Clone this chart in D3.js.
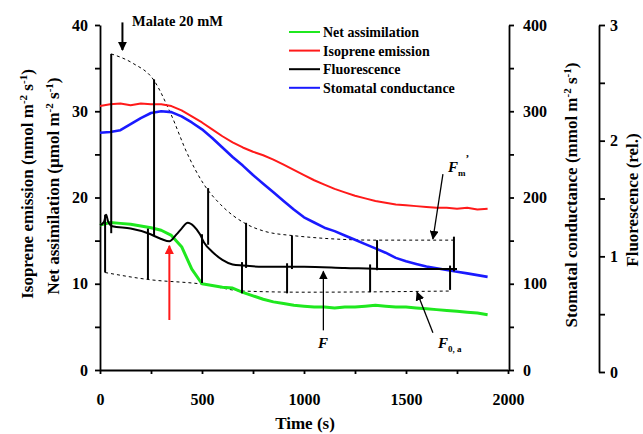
<!DOCTYPE html>
<html>
<head>
<meta charset="utf-8">
<script src="https://cdn.jsdelivr.net/npm/d3@7"></script>
<style>
  body { margin: 0; background: #fff; }
  svg { display: block; }
  text { font-family: "Liberation Serif", "Times New Roman", serif; font-weight: bold; fill: #000; }
</style>
</head>
<body>
<script>
// sampled traces (s)
var times = [0, 50, 100, 150, 200, 250, 300, 350, 400, 450, 500, 550, 600, 650, 700, 750, 800, 850, 900, 950,
  1000, 1050, 1100, 1150, 1200, 1250, 1300, 1350, 1400, 1450, 1500, 1550, 1600, 1650, 1700, 1750, 1800, 1850, 1900];
var netAssimilation = [16.8, 17.1, 17.0, 16.9, 16.7, 16.5, 16.2, 15.6, 14.3, 11.7, 10.0, 9.8, 9.6, 9.5, 9.0, 8.6, 8.2, 7.9, 7.7, 7.5,
  7.4, 7.3, 7.3, 7.2, 7.3, 7.3, 7.4, 7.5, 7.4, 7.3, 7.3, 7.2, 7.1, 7.0, 6.9, 6.8, 6.7, 6.6, 6.4];
var isopreneEmission = [30.6, 30.8, 30.9, 30.7, 30.9, 30.8, 30.8, 30.6, 30.1, 29.4, 28.7, 27.9, 27.1, 26.4, 25.8, 25.3, 24.9, 24.4, 23.8, 23.2,
  22.6, 22.0, 21.5, 21.0, 20.6, 20.2, 19.9, 19.6, 19.4, 19.2, 19.1, 19.0, 18.9, 18.8, 18.8, 18.7, 18.8, 18.6, 18.7];
var stomatalConductance = [275, 276, 278, 285, 292, 298, 300, 299, 294, 287, 279, 269, 258, 247, 237, 226, 216, 206, 196, 186,
  177, 171, 165, 161, 156, 151, 146, 141, 136, 130, 126, 123, 120, 118, 116, 114, 112, 110, 108];

// fluorescence trace
var fluorTime = [0, 20, 30, 40, 60, 150, 235, 300, 340, 375, 400, 430, 460, 490, 510, 550, 600, 650, 700, 800, 1000, 1200, 1400, 1600, 1750];
var fluorValue = [1.27, 1.30, 1.36, 1.30, 1.26, 1.24, 1.20, 1.15, 1.13, 1.19, 1.24, 1.29, 1.26, 1.19, 1.12, 1.04, 0.97, 0.93, 0.92, 0.91, 0.91, 0.90, 0.89, 0.89, 0.89];

// saturating pulses
var dipTime = [25, 235, 500, 696, 917, 1324, 1716];
var dipValue = [0.86, 0.80, 0.77, 0.68, 0.68, 0.69, 0.71];
var dipTop = [1.36, 1.24, 1.19, 0.95, 0.94, 0.93, 0.92];
var peakTime = [55, 265, 530, 716, 941, 1358, 1735];
var peakValue = [2.75, 2.53, 1.59, 1.29, 1.18, 1.14, 1.17];
var peakBase = [1.20, 1.18, 1.10, 0.90, 0.89, 0.88, 0.87];

// dashed envelopes
var fmTime = [55, 160, 265, 345, 430, 510, 590, 716, 800, 941, 1358, 1735];
var fmValue = [2.75, 2.67, 2.52, 2.24, 1.88, 1.62, 1.45, 1.28, 1.22, 1.18, 1.14, 1.14];
var f0Time = [25, 235, 500, 700, 1000, 1716];
var f0Value = [0.86, 0.80, 0.76, 0.70, 0.69, 0.70];

var legendNames = ["Net assimilation", "Isoprene emission", "Fluorescence", "Stomatal conductance"];
var legendColors = ["#1fe81f", "#ff1a1a", "#000000", "#1a1aff"];

var W = 643, H = 434;
var svg = d3.select("body").append("svg").attr("width", W).attr("height", H);

var x = d3.scaleLinear().domain([0, 2000]).range([100, 508]);
var yL = d3.scaleLinear().domain([0, 40]).range([370, 25]);
var yS = d3.scaleLinear().domain([0, 400]).range([370, 25]);
var yF = d3.scaleLinear().domain([0, 3]).range([372, 25]);

function styleAxis(g, size) {
  g.attr("font-size", null).attr("font-family", null);
  g.selectAll("path, line").attr("stroke", "#000").attr("stroke-width", 1.8);
  g.selectAll("text").style("font-size", size + "px");
}

// axes
svg.append("g").attr("transform", "translate(100,0)")
  .call(d3.axisLeft(yL).tickValues([0, 5, 10, 15, 20, 25, 30, 35, 40]).tickSize(5).tickSizeOuter(0).tickPadding(7)
    .tickFormat(function (d) { return d % 10 === 0 ? d : ""; }))
  .call(styleAxis, 16);

svg.append("g").attr("transform", "translate(0,370)")
  .call(d3.axisBottom(x).tickValues([0, 250, 500, 750, 1000, 1250, 1500, 1750, 2000]).tickSize(4).tickSizeOuter(0).tickPadding(20)
    .tickFormat(function (d) { return d % 500 === 0 ? d : ""; }))
  .call(styleAxis, 16);

svg.append("g").attr("transform", "translate(509,0)")
  .call(d3.axisRight(yS).tickValues([0, 50, 100, 150, 200, 250, 300, 350, 400]).tickSize(5).tickSizeOuter(0).tickPadding(9)
    .tickFormat(function (d) { return d % 100 === 0 ? d : ""; }))
  .call(styleAxis, 16);

svg.append("g").attr("transform", "translate(599,0)")
  .call(d3.axisRight(yF).tickValues([0, 0.5, 1, 1.5, 2, 2.5, 3]).tickSize(6).tickSizeOuter(0).tickPadding(5)
    .tickFormat(function (d) { return d % 1 === 0 ? d : ""; }))
  .call(styleAxis, 16);

// axis titles
function unitTitle(tx, ty, lead) {
  var t = svg.append("text").attr("transform", "translate(" + tx + "," + ty + ") rotate(-90)")
    .attr("text-anchor", "middle").style("font-size", "17px");
  t.append("tspan").text(lead + " m");
  t.append("tspan").attr("dy", -6).style("font-size", "11px").text("-2");
  t.append("tspan").attr("dy", 6).text(" s");
  t.append("tspan").attr("dy", -6).style("font-size", "11px").text("-1");
  t.append("tspan").attr("dy", 6).text(")");
}
unitTitle(33, 184, "Isoprene emission (nmol");
unitTitle(59, 186, "Net assimilation (\u00b5mol");
unitTitle(577, 195, "Stomatal conductance (mmol");
svg.append("text").attr("transform", "translate(638,200) rotate(-90)")
  .attr("text-anchor", "middle").style("font-size", "17px").text("Fluorescence (rel.)");
svg.append("text").attr("x", 305).attr("y", 429).attr("text-anchor", "middle")
  .style("font-size", "17px").text("Time (s)");

// dashed envelopes
var fmLine = d3.line().curve(d3.curveMonotoneX)
  .x(function (d, i) { return x(fmTime[i]); }).y(function (d) { return yF(d); });
svg.append("path").attr("d", fmLine(fmValue)).attr("fill", "none")
  .attr("stroke", "#000").attr("stroke-width", 1).attr("stroke-dasharray", "3,3");
var f0Line = d3.line().curve(d3.curveMonotoneX)
  .x(function (d, i) { return x(f0Time[i]); }).y(function (d) { return yF(d); });
svg.append("path").attr("d", f0Line(f0Value)).attr("fill", "none")
  .attr("stroke", "#000").attr("stroke-width", 1).attr("stroke-dasharray", "3,3");

// traces
function trace(values, yScale, color, width) {
  var line = d3.line().x(function (d, i) { return x(times[i]); }).y(function (d) { return yScale(d); });
  svg.append("path").attr("d", line(values)).attr("fill", "none")
    .attr("stroke", color).attr("stroke-width", width).attr("stroke-linejoin", "round");
}
trace(netAssimilation, yL, legendColors[0], 3);
trace(isopreneEmission, yL, legendColors[1], 2);
trace(stomatalConductance, yS, legendColors[3], 2.6);

var fLine = d3.line().curve(d3.curveMonotoneX)
  .x(function (d, i) { return x(fluorTime[i]); }).y(function (d) { return yF(d); });
svg.append("path").attr("d", fLine(fluorValue)).attr("fill", "none")
  .attr("stroke", "#000").attr("stroke-width", 2);

svg.selectAll(".dip").data(dipTime).enter().append("line").attr("class", "dip")
  .attr("x1", function (d) { return x(d); }).attr("x2", function (d) { return x(d); })
  .attr("y1", function (d, i) { return yF(dipValue[i]); }).attr("y2", function (d, i) { return yF(dipTop[i]); })
  .attr("stroke", "#000").attr("stroke-width", 2);
svg.selectAll(".peak").data(peakTime).enter().append("line").attr("class", "peak")
  .attr("x1", function (d) { return x(d); }).attr("x2", function (d) { return x(d); })
  .attr("y1", function (d, i) { return yF(peakBase[i]); }).attr("y2", function (d, i) { return yF(peakValue[i]); })
  .attr("stroke", "#000").attr("stroke-width", 2);

// legend
var leg = svg.append("g").selectAll("g").data(legendNames).enter().append("g")
  .attr("transform", function (d, i) { return "translate(289," + (32 + i * 18.6) + ")"; });
leg.append("line").attr("x1", 0).attr("x2", 31).attr("stroke-width", 2)
  .attr("stroke", function (d, i) { return legendColors[i]; });
leg.append("text").attr("x", 34).attr("dy", "0.35em").style("font-size", "14px").text(function (d) { return d; });

// arrows and labels
var defs = svg.append("defs");
function marker(id, color) {
  defs.append("marker").attr("id", id).attr("viewBox", "0 0 10 10").attr("refX", 9).attr("refY", 5)
    .attr("markerWidth", 9).attr("markerHeight", 9).attr("markerUnits", "userSpaceOnUse").attr("orient", "auto")
    .append("path").attr("d", "M0,0L10,5L0,10z").attr("fill", color);
}
marker("headBlack", "#000");
marker("headRed", "#ff1a1a");
marker("headThin", "#000");

function arrow(t1, v1, t2, v2, ys, color, w, m) {
  svg.append("line").attr("x1", x(t1)).attr("y1", ys(v1)).attr("x2", x(t2)).attr("y2", ys(v2))
    .attr("stroke", color).attr("stroke-width", w).attr("marker-end", "url(#" + m + ")");
}
arrow(110, 40.3, 110, 37.1, yL, "#000", 2, "headBlack");
arrow(340, 5.8, 340, 14.4, yL, "#ff1a1a", 2, "headRed");
arrow(1095, 0.36, 1095, 0.87, yF, "#000", 1.3, "headThin");
arrow(1681, 1.71, 1632, 1.15, yF, "#000", 1.3, "headThin");
arrow(1632, 0.34, 1554, 0.69, yF, "#000", 1.3, "headThin");

svg.append("text").attr("x", 132).attr("y", 26).style("font-size", "14.5px").text("Malate 20 mM");

function fLabel(t, v, sub, sup) {
  var tx = svg.append("text").attr("x", x(t)).attr("y", yF(v)).style("font-style", "italic").style("font-size", "15px");
  tx.append("tspan").text("F");
  if (sub) tx.append("tspan").attr("dy", 4).style("font-size", "9px").style("font-style", "normal").text(sub);
  if (sup) tx.append("tspan").attr("dy", -14).style("font-size", "11px").style("font-style", "normal").text(sup);
}
fLabel(1069, 0.21, null, null);
fLabel(1706, 1.73, "m", "\u2019");
fLabel(1657, 0.21, "0, a", null);
</script>
</body>
</html>
